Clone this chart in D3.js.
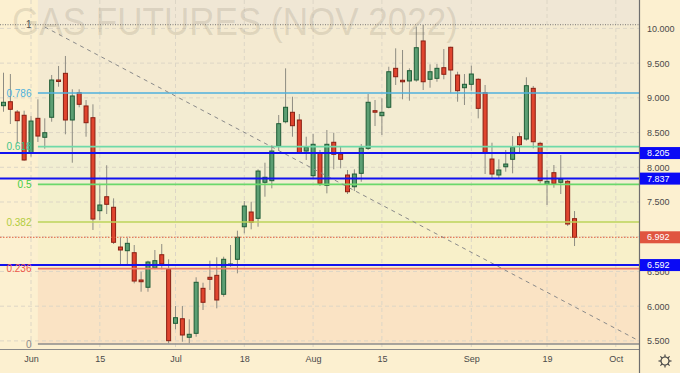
<!DOCTYPE html>
<html>
<head>
<meta charset="utf-8">
<script src="https://cdn.jsdelivr.net/npm/d3@7"></script>
<style>
  body { margin: 0; background: #fcf0d0; }
  svg { display: block; font-family: "Liberation Sans", Arial, sans-serif; }
</style>
</head>
<body>
<svg id="chart" width="680" height="373"></svg>
<script>
// Candles (May 25 .. Sep 23, 2022), one value per trading day
const open = [8.887, 8.944, 8.796, 8.749, 8.210, 8.705, 8.432, 8.720, 9.257, 9.353,
  8.681, 9.074, 8.883, 8.714, 7.375, 7.576, 7.424, 6.852, 6.799, 6.770,
  6.377, 6.272, 6.550, 6.741, 6.531, 5.753, 5.819, 5.552, 5.609, 6.257,
  6.416, 6.444, 6.171, 6.593, 6.675, 7.144, 7.356, 7.265, 7.784, 7.807,
  8.306, 8.656, 8.792, 8.681, 8.234, 7.879, 8.210, 7.740, 8.360, 8.191,
  7.889, 7.720, 7.913, 8.273, 8.815, 8.743, 8.864, 9.425, 9.253, 9.243,
  9.257, 9.819, 9.267, 9.281, 9.434, 9.728, 9.329, 9.146, 9.195, 9.267,
  9.074, 8.119, 7.889, 8.008, 8.115, 8.440, 8.407, 9.137, 8.345, 7.755,
  7.922, 7.784, 7.798, 7.260];
const high = [9.362, 9.343, 8.825, 8.815, 8.738, 8.979, 8.705, 9.329, 9.459, 9.603,
  9.123, 9.123, 8.969, 8.907, 7.759, 8.029, 7.553, 6.986, 6.986, 6.881,
  6.496, 6.655, 6.809, 6.895, 6.675, 6.002, 6.002, 5.811, 6.416, 6.338,
  6.655, 6.704, 6.712, 6.881, 7.087, 7.514, 7.504, 7.971, 8.066, 8.317,
  8.753, 9.425, 9.016, 8.767, 8.440, 8.479, 8.249, 8.537, 8.498, 8.296,
  7.961, 7.971, 8.335, 9.055, 8.969, 8.993, 9.448, 9.713, 9.689, 9.425,
  10.024, 10.049, 9.483, 9.487, 9.703, 9.736, 9.376, 9.343, 9.463, 9.281,
  9.185, 8.354, 8.115, 8.249, 8.450, 8.498, 9.296, 9.171, 8.368, 7.961,
  8.033, 8.177, 7.817, 7.370];
const low = [8.800, 8.623, 8.345, 8.095, 8.152, 8.364, 8.268, 8.656, 9.160, 8.475,
  8.066, 8.864, 8.440, 7.097, 7.241, 7.327, 6.895, 6.578, 6.593, 6.329,
  6.208, 6.208, 6.531, 6.531, 5.465, 5.667, 5.488, 5.465, 5.560, 5.945,
  6.233, 5.969, 6.136, 6.568, 6.473, 7.049, 7.107, 7.144, 7.576, 7.697,
  8.249, 8.633, 8.440, 8.191, 8.105, 7.827, 7.730, 7.625, 7.971, 7.985,
  7.615, 7.658, 7.792, 8.249, 8.594, 8.465, 8.849, 9.185, 8.979, 8.959,
  9.232, 9.113, 9.146, 9.232, 9.267, 9.065, 8.944, 8.897, 9.103, 8.705,
  7.903, 7.841, 7.836, 7.936, 7.913, 8.210, 8.383, 8.273, 7.769, 7.457,
  7.706, 7.615, 7.154, 6.866];
const close = [8.936, 8.835, 8.671, 8.105, 8.666, 8.450, 8.498, 9.257, 9.247, 8.681,
  9.027, 8.907, 8.642, 7.255, 7.457, 7.467, 6.920, 6.809, 6.905, 6.362,
  6.352, 6.636, 6.655, 6.607, 5.503, 5.834, 5.585, 5.595, 6.344, 6.056,
  6.387, 6.089, 6.675, 6.607, 6.992, 7.442, 7.208, 7.946, 7.856, 8.234,
  8.628, 8.864, 8.599, 8.201, 8.288, 8.331, 7.769, 8.331, 8.187, 8.115,
  7.648, 7.903, 8.278, 8.936, 8.806, 8.792, 9.376, 9.304, 9.243, 9.391,
  9.722, 9.232, 9.376, 9.425, 9.339, 9.401, 9.103, 9.195, 9.343, 8.849,
  8.210, 7.903, 7.961, 8.047, 8.288, 8.325, 9.175, 8.368, 7.807, 7.798,
  7.769, 7.827, 7.183, 6.992];

// Exchange calendar
const firstDay = new Date(2022, 4, 25);
const lastDay = new Date(2022, 9, 8);
const holidays = ['2022-05-30', '2022-06-20', '2022-07-04', '2022-09-05'];

// Axis ticks
const priceTicks = [5.5, 6.0, 6.5, 7.0, 7.5, 8.0, 8.5, 9.0, 9.5, 10.0];
const dateTicks = ['2022-06-01', '2022-06-15', '2022-07-01', '2022-07-18', '2022-08-01',
  '2022-08-15', '2022-09-01', '2022-09-19', '2022-10-03'];
const dateTickLabels = ['Jun', '15', 'Jul', '18', 'Aug', '15', 'Sep', '19', 'Oct'];

// Fibonacci retracement
const fibLow = 5.456;
const fibHigh = 10.053;
const fibStart = '2022-06-02';
const fibLevels = [0, 0.236, 0.382, 0.5, 0.618, 0.786, 1];
const fibLabels = ['0', '0.236', '0.382', '0.5', '0.618', '0.786', '1'];
const fibColors = ['#8c8c8c', '#ec7a6a', '#bcd45a', '#6bd86b', '#6fd9a8', '#4fb0dc', '#555555'];
const fibFills = ['#fae3c4', '#f8f0c9', '#f3f0cc', '#f1eed2', '#f3ecd2', '#f4ead1'];
const fibTopFill = '#f0e7d5';

// Horizontal lines and trend line
const hLines = [8.205, 7.837, 6.592];
const lastPrice = 6.992;
const trendLine = [{date: '2022-06-03', price: 10.02}, {date: '2022-10-06', price: 5.52}];

const title = 'GAS FUTURES (NOV 2022)';

const svg = d3.select('#chart');
const width = +svg.attr('width');
const height = +svg.attr('height');
const plotRight = 639;
const axisY = 349;

const fmt = d3.timeFormat('%Y-%m-%d');
const days = d3.timeDay.range(firstDay, lastDay)
  .filter(d => d.getDay() !== 0 && d.getDay() !== 6 && !holidays.includes(fmt(d)))
  .map(fmt);

const candles = open.map((o, i) => ({date: days[i], o: o, h: high[i], l: low[i], c: close[i]}));

const x = d3.scalePoint().domain(days).range([3.5, 3.5 + 6.88 * (days.length - 1)]);
const y = d3.scaleLinear().domain([5.5, 10]).range([340.9, 28.4]);
const fibPrice = lv => fibLow + (fibHigh - fibLow) * lv;

svg.append('rect').attr('width', width).attr('height', height).attr('fill', '#fcf0d0');

svg.append('defs').append('clipPath').attr('id', 'plot')
  .append('rect').attr('width', plotRight).attr('height', axisY);

const g = svg.append('g').attr('clip-path', 'url(#plot)');
const fx = x(fibStart);

// Fib zones
g.append('rect')
  .attr('x', fx).attr('y', 0)
  .attr('width', plotRight - fx).attr('height', y(fibPrice(1)))
  .attr('fill', fibTopFill);
g.selectAll('rect.zone')
  .data(fibFills)
  .join('rect')
  .attr('class', 'zone')
  .attr('x', fx)
  .attr('y', (d, i) => y(fibPrice(fibLevels[i + 1])))
  .attr('width', plotRight - fx)
  .attr('height', (d, i) => y(fibPrice(fibLevels[i])) - y(fibPrice(fibLevels[i + 1])))
  .attr('fill', d => d);

// Grid
g.selectAll('line.vgrid')
  .data(dateTicks)
  .join('line')
  .attr('x1', d => x(d)).attr('x2', d => x(d))
  .attr('y1', 0).attr('y2', axisY)
  .attr('stroke', '#ddd6c6').attr('stroke-dasharray', '4,3');
g.selectAll('line.hgrid')
  .data(priceTicks)
  .join('line')
  .attr('x1', 0).attr('x2', plotRight)
  .attr('y1', d => y(d)).attr('y2', d => y(d))
  .attr('stroke', '#ddd6c6').attr('stroke-dasharray', '4,3');

// Watermark
svg.append('text')
  .attr('x', 12).attr('y', 35)
  .attr('textLength', 446).attr('lengthAdjust', 'spacingAndGlyphs')
  .attr('font-size', 39)
  .attr('fill', 'rgba(110,100,80,0.17)')
  .text(title);

// Candles
const bw = 4;
g.selectAll('line.wick')
  .data(candles)
  .join('line')
  .attr('x1', d => x(d.date)).attr('x2', d => x(d.date))
  .attr('y1', d => y(d.h)).attr('y2', d => y(d.l))
  .attr('stroke', '#8e8c82').attr('stroke-width', 1);
g.selectAll('rect.body')
  .data(candles)
  .join('rect')
  .attr('x', d => x(d.date) - bw / 2)
  .attr('y', d => y(Math.max(d.o, d.c)))
  .attr('width', bw)
  .attr('height', d => Math.max(1.5, Math.abs(y(d.o) - y(d.c))))
  .attr('fill', d => d.c >= d.o ? '#5c9f73' : '#e0452f')
  .attr('stroke', d => d.c >= d.o ? '#1f5c36' : '#8a1f12')
  .attr('stroke-width', 1);

// Fib lines
g.append('line')
  .attr('x1', 0).attr('x2', plotRight)
  .attr('y1', y(fibPrice(1))).attr('y2', y(fibPrice(1)))
  .attr('stroke', '#777').attr('stroke-dasharray', '1,1.5');
g.selectAll('line.fib')
  .data(fibLevels.slice(0, 6))
  .join('line')
  .attr('x1', fx).attr('x2', plotRight)
  .attr('y1', d => y(fibPrice(d))).attr('y2', d => y(fibPrice(d)))
  .attr('stroke', (d, i) => fibColors[i])
  .attr('stroke-width', (d, i) => i === 0 ? 1.5 : 1.6);
svg.selectAll('text.fib')
  .data(fibLevels)
  .join('text')
  .attr('x', 31.5)
  .attr('y', d => y(fibPrice(d)))
  .attr('dy', '0.36em')
  .attr('text-anchor', 'end')
  .attr('font-size', 10)
  .attr('fill', (d, i) => i === 1 ? '#f05a4a' : (i === 2 ? '#b2cc3c' : (i === 3 ? '#44cc44' : (i === 4 ? '#3fc48a' : fibColors[i]))))
  .text((d, i) => fibLabels[i]);

// Trend line
g.append('line')
  .attr('x1', x(trendLine[0].date)).attr('y1', y(trendLine[0].price))
  .attr('x2', x(trendLine[1].date)).attr('y2', y(trendLine[1].price))
  .attr('stroke', '#8a8a8a').attr('stroke-dasharray', '4,4');

// Last price line
g.append('line')
  .attr('x1', 0).attr('x2', plotRight)
  .attr('y1', y(lastPrice)).attr('y2', y(lastPrice))
  .attr('stroke', '#e0603f').attr('stroke-dasharray', '1.5,1.5');

// Horizontal levels
g.selectAll('line.hl')
  .data(hLines)
  .join('line')
  .attr('x1', 0).attr('x2', plotRight)
  .attr('y1', d => y(d)).attr('y2', d => y(d))
  .attr('stroke', '#1212f0').attr('stroke-width', 2);

// Axes frame
svg.append('line')
  .attr('x1', 0).attr('x2', plotRight + 0.5)
  .attr('y1', axisY + 0.5).attr('y2', axisY + 0.5)
  .attr('stroke', '#8a8a8a').attr('stroke-width', 1.2);
svg.append('line')
  .attr('x1', plotRight + 0.5).attr('x2', plotRight + 0.5)
  .attr('y1', 0).attr('y2', height)
  .attr('stroke', '#6e6e6e').attr('stroke-width', 1.2);

// Right axis
const yAxis = svg.append('g')
  .attr('transform', `translate(${plotRight},0)`)
  .call(d3.axisRight(y).tickValues(priceTicks).tickFormat(d3.format('.3f')).tickSize(0).tickPadding(8));
yAxis.select('.domain').remove();
yAxis.selectAll('text').attr('font-size', 9).attr('fill', '#4a4a4a').attr('font-family', 'Liberation Sans, Arial, sans-serif');

// Bottom axis
const xAxis = svg.append('g')
  .attr('transform', `translate(0,${axisY})`)
  .call(d3.axisBottom(x).tickValues(dateTicks).tickFormat((d, i) => dateTickLabels[i]).tickSize(0).tickPadding(7));
xAxis.select('.domain').remove();
xAxis.selectAll('text').attr('font-size', 9).attr('fill', '#4a4a4a').attr('font-family', 'Liberation Sans, Arial, sans-serif');

// Price labels
const tags = hLines.map(v => ({v: v, fill: '#0a0af5'})).concat([{v: lastPrice, fill: '#e0553f'}]);
const tag = svg.selectAll('g.tag')
  .data(tags)
  .join('g')
  .attr('transform', d => `translate(${plotRight + 1},${y(d.v)})`);
tag.append('rect')
  .attr('x', 0).attr('y', -6).attr('width', width - plotRight - 1).attr('height', 12)
  .attr('fill', d => d.fill);
tag.append('text')
  .attr('x', 7).attr('dy', '0.35em')
  .attr('font-size', 9).attr('fill', '#fff')
  .text(d => d3.format('.3f')(d.v));

// Settings gear
const gear = svg.append('g').attr('transform', 'translate(665,361)')
  .attr('fill', 'none').attr('stroke', '#444').attr('stroke-width', 1.2);
gear.append('circle').attr('r', 4);
gear.selectAll('line')
  .data(d3.range(8))
  .join('line')
  .attr('x1', d => 4 * Math.cos(d * Math.PI / 4)).attr('y1', d => 4 * Math.sin(d * Math.PI / 4))
  .attr('x2', d => 6.5 * Math.cos(d * Math.PI / 4)).attr('y2', d => 6.5 * Math.sin(d * Math.PI / 4));
</script>
</body>
</html>
